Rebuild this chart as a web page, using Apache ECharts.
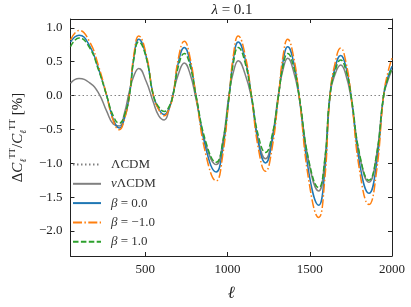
<!DOCTYPE html>
<html><head><meta charset="utf-8">
<script src="https://cdn.jsdelivr.net/npm/echarts@6/dist/echarts.min.js"></script>
<style>html,body{margin:0;padding:0;background:#fff}#c{width:411px;height:307px}</style>
</head><body><div id="c"></div>
<script>
const ell = [45,97,160,215,265,305,342,373,403,432,460,505,549,582,615,645,668,702,737,772,808,870,931,970,1010,1037,1065,1105,1145,1188,1231,1270,1310,1338,1366,1400,1435,1495,1554,1590,1623,1655,1688,1720,1751,1805,1860,1905,1949,1975,2000];
const nuLCDM = [0.18,0.25,0.19,0.04,-0.23,-0.42,-0.45,-0.26,0.06,0.30,0.40,0.21,-0.10,-0.30,-0.36,-0.20,0.02,0.32,0.48,0.32,-0.05,-0.74,-1.02,-0.70,0.03,0.36,0.515,0.33,-0.03,-0.67,-0.935,-0.64,0.03,0.39,0.55,0.37,-0.02,-1.0,-1.41,-0.99,0.02,0.32,0.45,0.30,-0.04,-0.91,-1.28,-0.90,0.0,0.22,0.38];
const beta0 = [0.79,0.89,0.74,0.40,0,-0.35,-0.48,-0.34,0,0.59,0.83,0.58,0,-0.20,-0.28,-0.18,0,0.50,0.71,0.50,0,-0.80,-1.13,-0.80,0,0.56,0.79,0.56,0,-0.71,-0.995,-0.70,0,0.51,0.72,0.51,0,-1.15,-1.62,-1.15,0,0.42,0.59,0.42,0,-1.03,-1.445,-1.03,0,0.27,0.43];
const betaM1 = [0.82,0.96,0.80,0.44,0,-0.37,-0.505,-0.35,0,0.63,0.88,0.61,0,-0.21,-0.30,-0.19,0,0.56,0.80,0.56,0,-0.89,-1.26,-0.89,0,0.62,0.88,0.62,0,-0.79,-1.12,-0.79,0,0.59,0.83,0.59,0,-1.27,-1.80,-1.27,0,0.49,0.70,0.49,0,-1.14,-1.61,-1.14,0,0.34,0.55];
const beta1 = [0.72,0.85,0.71,0.38,0,-0.30,-0.41,-0.29,0,0.56,0.79,0.56,0,-0.17,-0.235,-0.16,0,0.44,0.62,0.44,0,-0.70,-0.985,-0.70,0,0.50,0.71,0.50,0,-0.60,-0.84,-0.60,0,0.44,0.62,0.44,0,-0.97,-1.36,-0.97,0,0.37,0.525,0.37,0,-0.89,-1.25,-0.89,0,0.25,0.40];
const lcdm = ell.map(() => 0);
const xTicks = [500,1000,1500,2000];
const yTicks = [-2,-1.5,-1,-0.5,0,0.5,1];
const legendLabels = {lcdm:'ΛCDM', nu:'{i|ν}ΛCDM', b0:'{i|β} = 0.0', bm1:'{i|β} = −1.0', b1:'{i|β} = 1.0'};

const FONT = 'Liberation Serif';
const AX = '#222';
const pair = arr => ell.map((x,i) => [x, arr[i]]);
const fmtY = v => (v < 0 ? '−' : '') + Math.abs(v).toFixed(1);

function xAx(pos, labels) {
  return {type:'value', position:pos, min:45, max:2000,
    axisLine:{show:true, onZero:false, lineStyle:{color:AX, width:1}},
    axisTick:{show:true, inside:true, length:4, customValues:xTicks, lineStyle:{color:AX}},
    axisLabel:{show:labels, customValues:xTicks, formatter:v => String(v), fontFamily:FONT, fontSize:13, color:AX, margin:7},
    splitLine:{show:false},
    name: labels ? 'ℓ' : '', nameLocation:'middle', nameGap:29,
    nameTextStyle:{fontFamily:FONT, fontStyle:'italic', fontSize:17, color:AX}};
}
function yAx(pos, labels) {
  return {type:'value', position:pos, min:-2.37, max:1.13,
    axisLine:{show:true, onZero:false, lineStyle:{color:AX, width:1}},
    axisTick:{show:true, inside:true, length:4, customValues:yTicks, lineStyle:{color:AX}},
    axisLabel:{show:labels, customValues:yTicks, formatter:fmtY, fontFamily:FONT, fontSize:13, color:AX, margin:8},
    splitLine:{show:false},
    name: labels ? '{n|Δ}{c|C}{b|ℓ}{s|TT}{n|/}{c|C}{b|ℓ}{s|TT}{n| [%]}' : '', nameLocation:'middle', nameGap:38,
    nameTextStyle:{fontFamily:FONT, fontSize:15, color:AX,
      rich:{n:{fontFamily:FONT, fontSize:15, color:AX, lineHeight:20},
            c:{fontFamily:FONT, fontSize:15, fontStyle:'italic', color:AX, lineHeight:20},
            s:{fontFamily:FONT, fontSize:9, color:AX, verticalAlign:'top', lineHeight:20},
            b:{fontFamily:FONT, fontSize:9, fontStyle:'italic', color:AX, verticalAlign:'bottom', lineHeight:20}}}};
}
function line(name, arr, color, type, width, z) {
  return {name, type:'line', data:pair(arr), symbol:'none', smooth:0.5, z,
    lineStyle:{color, type, width}, itemStyle:{color}, xAxisIndex:0, yAxisIndex:0};
}

const chart = echarts.init(document.getElementById('c'), null, {renderer:'canvas'});
chart.setOption({
  animation:false,
  backgroundColor:'#fff',
  title:{text:'{i|λ} = 0.1', left:227, top:1, textAlign:'center', padding:[2,5],
    textStyle:{fontFamily:FONT, fontSize:15, fontWeight:'normal', color:AX,
      rich:{i:{fontFamily:FONT, fontSize:15, fontStyle:'italic', color:AX}}}},
  grid:{left:62, right:19, top:19, bottom:50},
  xAxis:[xAx('bottom', true), xAx('top', false)],
  yAxis:[yAx('left', true), yAx('right', false)],
  legend:{orient:'vertical', left:72, top:158, itemWidth:28, itemHeight:12, itemGap:6.3, padding:0,
    data:['lcdm','nu','b0','bm1','b1'],
    itemStyle:{opacity:0},
    formatter: n => legendLabels[n],
    textStyle:{fontFamily:FONT, fontSize:13, color:'#333', padding:[0,0,0,5],
      rich:{i:{fontFamily:FONT, fontSize:13, fontStyle:'italic', color:'#333'}}}},
  series:[
    line('lcdm', lcdm, '#808080', [1.5,2.5], 1.2, 1),
    line('nu', nuLCDM, '#808080', 'solid', 1.5, 2),
    line('b0', beta0, '#1f77b4', 'solid', 1.5, 3),
    line('bm1', betaM1, '#ff7f0e', [9,2.4,1.5,2.4], 1.5, 4),
    line('b1', beta1, '#2ca02c', [5.5,2.4], 1.5, 5)
  ]
});
</script></body></html>
